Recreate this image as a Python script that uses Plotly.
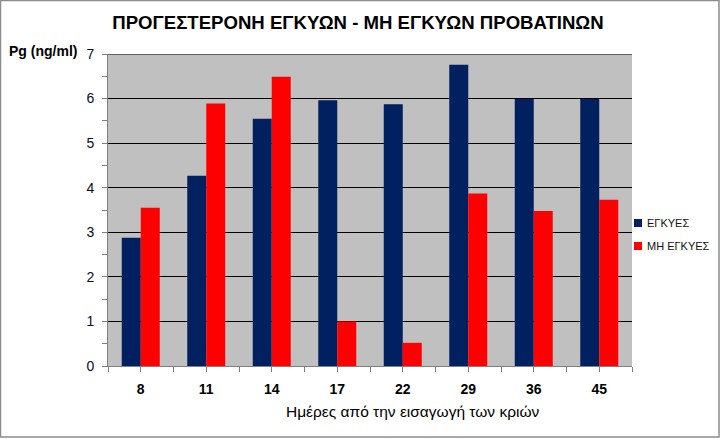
import plotly.graph_objects as go

categories = ["8", "11", "14", "17", "22", "29", "36", "45"]
pregnant = [2.88, 4.27, 5.55, 5.96, 5.87, 6.76, 5.99, 5.99]
non_pregnant = [3.55, 5.89, 6.49, 1.00, 0.52, 3.87, 3.48, 3.73]
series_names = ["ΕΓΚΥΕΣ", "ΜΗ ΕΓΚΥΕΣ"]
colors = ["#00205F", "#FF0000"]

W, H = 722, 439
L, R, T, B = 108, 632, 54, 366
pw, ph = R - L, B - T

def px(x):
    return (x - L) / pw

def py(y):
    return (B - y) / ph

FONT = "Liberation Sans, Arial, sans-serif"
xs = list(range(len(categories)))

fig = go.Figure()
fig.add_trace(go.Bar(x=xs, y=pregnant, name=series_names[0], marker=dict(color=colors[0], line=dict(width=0))))
fig.add_trace(go.Bar(x=xs, y=non_pregnant, name=series_names[1], marker=dict(color=colors[1], line=dict(width=0))))

fig.update_layout(
    width=W, height=H,
    margin=dict(l=L, r=W - R, t=T, b=H - B, pad=0),
    paper_bgcolor="white",
    plot_bgcolor="#C0C0C0",
    barmode="group",
    bargap=0.42,
    bargroupgap=0,
    showlegend=False,
    font=dict(family=FONT, color="black", size=13),
    title=dict(
        text="<b>ΠΡΟΓΕΣΤΕΡΟΝΗ ΕΓΚΥΩΝ - ΜΗ ΕΓΚΥΩΝ ΠΡΟΒΑΤΙΝΩΝ</b>",
        font=dict(family=FONT, size=18.6, color="black"),
        x=358 / W, xref="container", xanchor="center",
        y=1 - 22 / H, yref="container", yanchor="middle",
    ),
)

fig.update_xaxes(
    range=[-0.5, len(categories) - 0.5],
    tickmode="array", tickvals=xs, ticktext=["<b>%s</b>" % c for c in categories],
    ticks="outside", ticklen=5, tickcolor="#808080", tickwidth=1,
    minor=dict(ticks="outside", ticklen=5, tickcolor="#808080", tickwidth=1, dtick=0.5, tick0=-0.5),
    showline=True, linecolor="#808080", linewidth=1,
    showgrid=False, zeroline=False,
    tickfont=dict(size=14, family=FONT, color="black"),
    ticklabelstandoff=5,
    fixedrange=True,
)
fig.update_yaxes(
    range=[0, 7], dtick=1,
    ticks="outside", ticklen=5, tickcolor="#808080", tickwidth=1,
    minor=dict(ticks="outside", ticklen=5, tickcolor="#808080", tickwidth=1, dtick=0.5),
    showline=True, linecolor="#808080", linewidth=1,
    showgrid=True, gridcolor="black", gridwidth=1,
    zeroline=False,
    tickfont=dict(size=14, family=FONT, color="#0A0A28"),
    ticklabelstandoff=5,
    fixedrange=True,
)

# top grid line at 7
fig.add_shape(type="line", xref="paper", yref="y", x0=0, x1=1, y0=7, y1=7, line=dict(color="black", width=1))

annotations = [
    dict(text="<b>Pg (ng/ml)</b>", x=px(7), y=py(51), xanchor="left", yanchor="middle",
         font=dict(size=14, family=FONT, color="black")),
    dict(text="Ημέρες από την εισαγωγή των κριών", x=px(413), y=py(411), xanchor="center", yanchor="middle",
         font=dict(size=15.5, family=FONT, color="black")),
]
legend_y = [223, 246]
for name, col, yy in zip(series_names, colors, legend_y):
    fig.add_shape(type="rect", xref="paper", yref="paper",
                  x0=px(634), x1=px(642), y0=py(yy + 4), y1=py(yy - 4),
                  fillcolor=col, line=dict(width=0))
    annotations.append(dict(text=name, x=px(645), y=py(yy), xanchor="left", yanchor="middle",
                            font=dict(size=11, family=FONT, color="#111111")))
for a in annotations:
    a.update(xref="paper", yref="paper", showarrow=False)
fig.update_layout(annotations=annotations)

# chart border
fig.add_shape(type="rect", xref="paper", yref="paper",
              x0=px(0.5), x1=px(719), y0=py(437), y1=py(0.5),
              line=dict(color="#8C8C8C", width=1.5), fillcolor="rgba(0,0,0,0)", layer="below")

fig.write_html("out.html")
